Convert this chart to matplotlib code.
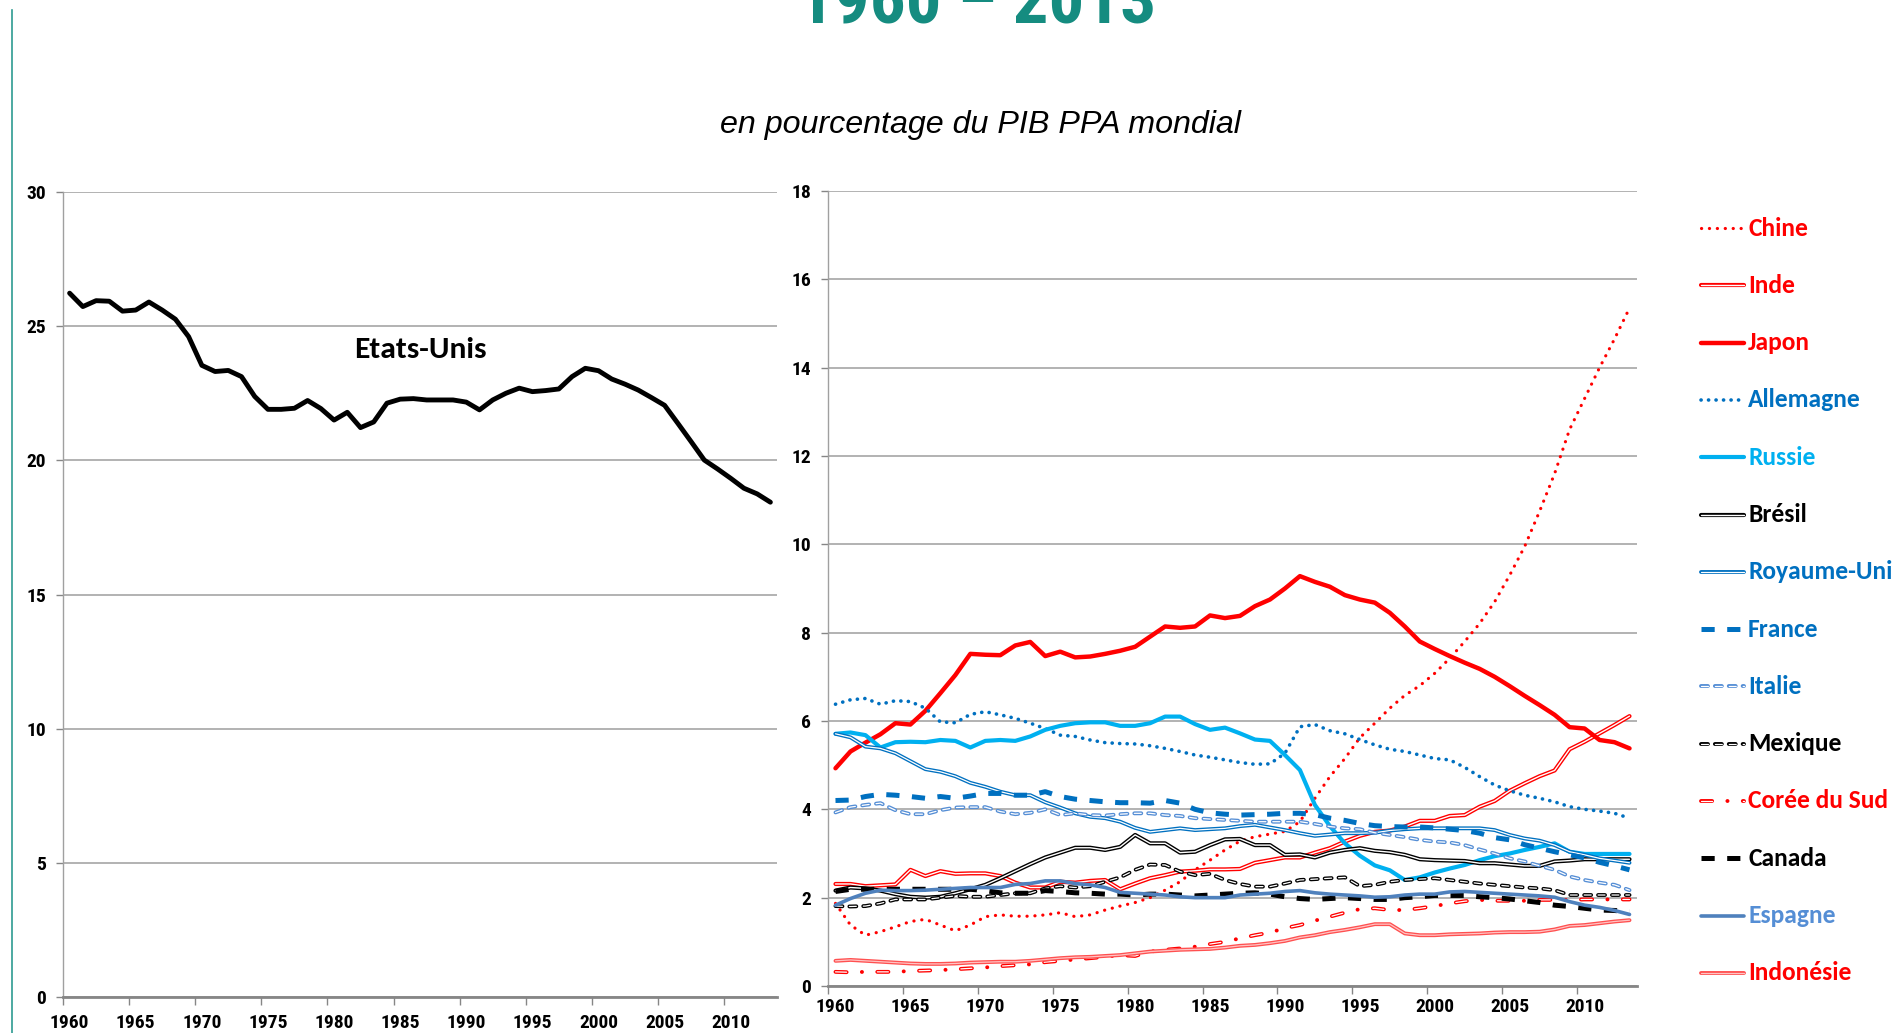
import numpy as np
import matplotlib
matplotlib.use('Agg')
import matplotlib.pyplot as plt
from matplotlib import font_manager
from matplotlib.lines import Line2D

plt.rcParams['lines.scale_dashes'] = False

fonts = font_manager.fontManager.ttflist


def pick(cands, bold=False):
    for c in cands:
        for f in fonts:
            if f.name == c and f.style == 'normal':
                wt = f.weight if isinstance(f.weight, int) else 400
                if not bold or 600 <= wt <= 800:
                    return c
    return 'DejaVu Sans'


NARROW = pick(['Liberation Sans Narrow', 'Arial Narrow', 'Archivo Narrow', 'Roboto Condensed',
               'PT Sans Narrow', 'Fira Sans Condensed', 'IBM Plex Sans Condensed',
               'Barlow Condensed', 'Encode Sans Condensed', 'Asap Condensed',
               'Sofia Sans Condensed', 'Pragati Narrow', 'Open Sans Condensed'], bold=True)
CALIBRI = pick(['Carlito', 'Calibri', 'Lato'], bold=True)
ARIAL = pick(['Liberation Sans', 'Arimo', 'Arial'])

years = list(range(1960, 2014))

etats_unis = [26.23, 25.73, 25.95, 25.93, 25.56, 25.60, 25.90, 25.60, 25.26, 24.61,
              23.54, 23.31, 23.35, 23.12, 22.38, 21.90, 21.90, 21.94, 22.23, 21.93,
              21.50, 21.79, 21.22, 21.43, 22.13, 22.28, 22.30, 22.25, 22.25, 22.25,
              22.17, 21.88, 22.25, 22.50, 22.69, 22.56, 22.60, 22.66, 23.12, 23.43,
              23.34, 23.03, 22.84, 22.62, 22.34, 22.05, 21.38, 20.70, 20.01, 19.68,
              19.33, 18.96, 18.75, 18.44]

chine = [1.87, 1.38, 1.15, 1.23, 1.34, 1.46, 1.51, 1.38, 1.25, 1.38,
         1.57, 1.61, 1.58, 1.58, 1.61, 1.66, 1.57, 1.61, 1.72, 1.81,
         1.89, 2.00, 2.17, 2.36, 2.63, 2.85, 3.08, 3.28, 3.38, 3.44,
         3.50, 3.72, 4.25, 4.74, 5.15, 5.62, 5.95, 6.29, 6.58, 6.80,
         7.08, 7.42, 7.80, 8.21, 8.70, 9.30, 9.95, 10.75, 11.60, 12.60,
         13.30, 14.00, 14.65, 15.35]

inde = [2.31, 2.31, 2.26, 2.28, 2.30, 2.63, 2.49, 2.60, 2.54, 2.55,
        2.55, 2.49, 2.34, 2.23, 2.23, 2.36, 2.34, 2.38, 2.40, 2.19,
        2.32, 2.44, 2.51, 2.59, 2.61, 2.64, 2.64, 2.65, 2.79, 2.85,
        2.91, 2.91, 3.02, 3.12, 3.27, 3.40, 3.49, 3.52, 3.61, 3.74,
        3.74, 3.85, 3.87, 4.06, 4.19, 4.42, 4.59, 4.75, 4.88, 5.36,
        5.53, 5.72, 5.91, 6.11]

japon = [4.93, 5.31, 5.51, 5.70, 5.95, 5.92, 6.23, 6.63, 7.04, 7.52,
         7.50, 7.49, 7.71, 7.79, 7.47, 7.57, 7.44, 7.46, 7.52, 7.59,
         7.68, 7.91, 8.14, 8.11, 8.14, 8.39, 8.33, 8.38, 8.60, 8.75,
         9.00, 9.28, 9.15, 9.04, 8.85, 8.75, 8.68, 8.45, 8.14, 7.80,
         7.63, 7.47, 7.32, 7.18, 7.00, 6.79, 6.57, 6.36, 6.14, 5.86,
         5.83, 5.57, 5.52, 5.38]

allemagne = [6.38, 6.48, 6.51, 6.38, 6.46, 6.44, 6.29, 5.98, 5.96, 6.15,
             6.21, 6.14, 6.06, 5.95, 5.83, 5.68, 5.65, 5.57, 5.51, 5.49,
             5.48, 5.44, 5.38, 5.31, 5.23, 5.18, 5.12, 5.06, 5.02, 5.03,
             5.27, 5.87, 5.92, 5.78, 5.71, 5.58, 5.46, 5.36, 5.31, 5.23,
             5.15, 5.12, 4.95, 4.74, 4.55, 4.42, 4.32, 4.25, 4.17, 4.06,
             4.00, 3.96, 3.91, 3.80]

russie = [5.71, 5.74, 5.68, 5.40, 5.52, 5.53, 5.52, 5.57, 5.55, 5.40,
          5.55, 5.57, 5.55, 5.65, 5.80, 5.89, 5.95, 5.97, 5.97, 5.89,
          5.89, 5.95, 6.10, 6.10, 5.93, 5.80, 5.85, 5.72, 5.58, 5.55,
          5.23, 4.89, 4.10, 3.62, 3.23, 2.95, 2.73, 2.62, 2.40, 2.46,
          2.57, 2.66, 2.74, 2.85, 2.94, 3.00, 3.08, 3.15, 3.23, 3.04,
          2.99, 2.99, 2.99, 2.99]

bresil = [2.16, 2.23, 2.21, 2.16, 2.08, 2.02, 2.00, 2.02, 2.10, 2.19,
          2.29, 2.44, 2.60, 2.76, 2.91, 3.02, 3.13, 3.13, 3.08, 3.15,
          3.42, 3.23, 3.23, 3.02, 3.04, 3.19, 3.32, 3.33, 3.19, 3.19,
          2.97, 2.98, 2.91, 3.02, 3.08, 3.12, 3.06, 3.03, 2.97, 2.87,
          2.85, 2.84, 2.83, 2.78, 2.78, 2.75, 2.72, 2.72, 2.82, 2.84,
          2.87, 2.87, 2.87, 2.87]

royaume_uni = [5.71, 5.63, 5.42, 5.38, 5.27, 5.09, 4.91, 4.85, 4.75, 4.60,
               4.51, 4.40, 4.32, 4.32, 4.16, 4.04, 3.91, 3.83, 3.80, 3.72,
               3.58, 3.49, 3.53, 3.57, 3.53, 3.55, 3.57, 3.62, 3.65, 3.59,
               3.53, 3.46, 3.40, 3.43, 3.46, 3.46, 3.47, 3.52, 3.55, 3.57,
               3.57, 3.57, 3.57, 3.57, 3.53, 3.42, 3.34, 3.29, 3.19, 3.04,
               2.97, 2.89, 2.84, 2.79]

france = [4.20, 4.21, 4.29, 4.34, 4.32, 4.29, 4.25, 4.29, 4.25, 4.30,
          4.36, 4.36, 4.32, 4.32, 4.40, 4.29, 4.23, 4.20, 4.17, 4.15,
          4.15, 4.14, 4.20, 4.14, 4.00, 3.92, 3.89, 3.87, 3.88, 3.89,
          3.91, 3.91, 3.88, 3.80, 3.75, 3.68, 3.63, 3.61, 3.60, 3.60,
          3.58, 3.55, 3.52, 3.46, 3.36, 3.31, 3.20, 3.12, 3.04, 2.97,
          2.90, 2.80, 2.72, 2.63]

italie = [3.93, 4.05, 4.10, 4.14, 3.98, 3.89, 3.89, 3.98, 4.04, 4.05,
          4.05, 3.95, 3.89, 3.92, 4.00, 3.87, 3.91, 3.87, 3.86, 3.89,
          3.91, 3.91, 3.87, 3.85, 3.80, 3.78, 3.76, 3.74, 3.72, 3.72,
          3.72, 3.72, 3.67, 3.61, 3.57, 3.55, 3.47, 3.42, 3.37, 3.31,
          3.27, 3.25, 3.19, 3.09, 3.00, 2.89, 2.82, 2.72, 2.63, 2.48,
          2.40, 2.34, 2.29, 2.17]

mexique = [1.81, 1.80, 1.81, 1.87, 1.96, 1.96, 1.96, 2.00, 2.04, 2.02,
           2.02, 2.06, 2.10, 2.10, 2.21, 2.26, 2.23, 2.26, 2.36, 2.46,
           2.63, 2.75, 2.74, 2.59, 2.51, 2.54, 2.40, 2.31, 2.25, 2.25,
           2.32, 2.40, 2.42, 2.44, 2.46, 2.26, 2.29, 2.36, 2.40, 2.42,
           2.44, 2.40, 2.36, 2.32, 2.29, 2.26, 2.23, 2.21, 2.17, 2.06,
           2.06, 2.06, 2.06, 2.06]

coree_du_sud = [0.32, 0.31, 0.32, 0.32, 0.32, 0.34, 0.35, 0.36, 0.38, 0.40,
                0.42, 0.45, 0.47, 0.49, 0.54, 0.57, 0.60, 0.63, 0.66, 0.70,
                0.68, 0.78, 0.82, 0.85, 0.89, 0.95, 1.00, 1.08, 1.15, 1.21,
                1.31, 1.38, 1.48, 1.57, 1.66, 1.74, 1.76, 1.72, 1.72, 1.76,
                1.81, 1.87, 1.92, 1.95, 1.93, 1.93, 1.93, 1.95, 1.95, 1.95,
                1.96, 1.96, 1.96, 1.96]

canada = [2.14, 2.19, 2.19, 2.19, 2.19, 2.19, 2.19, 2.19, 2.19, 2.19,
          2.16, 2.11, 2.10, 2.10, 2.16, 2.14, 2.11, 2.10, 2.08, 2.08,
          2.06, 2.08, 2.08, 2.06, 2.04, 2.06, 2.08, 2.10, 2.11, 2.08,
          2.02, 1.98, 1.96, 1.98, 2.00, 1.98, 1.96, 1.96, 2.00, 2.02,
          2.05, 2.05, 2.05, 2.02, 2.00, 1.97, 1.93, 1.89, 1.83, 1.80,
          1.76, 1.72, 1.71, 1.68]

espagne = [1.83, 1.98, 2.10, 2.17, 2.16, 2.16, 2.17, 2.19, 2.21, 2.23,
           2.23, 2.23, 2.30, 2.32, 2.38, 2.38, 2.32, 2.29, 2.23, 2.12,
           2.10, 2.08, 2.06, 2.02, 2.00, 2.00, 2.00, 2.06, 2.08, 2.10,
           2.14, 2.16, 2.11, 2.08, 2.06, 2.04, 2.01, 2.02, 2.06, 2.08,
           2.08, 2.13, 2.14, 2.12, 2.10, 2.08, 2.06, 2.04, 2.01, 1.91,
           1.83, 1.78, 1.71, 1.62]

indonesie = [0.57, 0.59, 0.57, 0.55, 0.53, 0.51, 0.50, 0.50, 0.51, 0.53,
             0.54, 0.55, 0.55, 0.57, 0.60, 0.63, 0.65, 0.66, 0.68, 0.70,
             0.74, 0.78, 0.80, 0.82, 0.83, 0.84, 0.87, 0.91, 0.93, 0.97,
             1.02, 1.10, 1.15, 1.22, 1.27, 1.33, 1.40, 1.40, 1.19, 1.15,
             1.15, 1.17, 1.18, 1.19, 1.21, 1.22, 1.22, 1.23, 1.28, 1.36,
             1.38, 1.42, 1.46, 1.49]

pays = ['Chine', 'Inde', 'Japon', 'Allemagne', 'Russie', 'Brésil', 'Royaume-Uni',
        'France', 'Italie', 'Mexique', 'Corée du Sud', 'Canada', 'Espagne', 'Indonésie']
series = [chine, inde, japon, allemagne, russie, bresil, royaume_uni,
          france, italie, mexique, coree_du_sud, canada, espagne, indonesie]

RED = '#FF0000'
BLUE = '#0070C0'
CYAN = '#00B0F0'
LBLUE = '#558ED5'
text_colors = [RED, RED, RED, BLUE, CYAN, 'black', BLUE, BLUE, BLUE, 'black',
               RED, 'black', LBLUE, RED]


def draw(ax, x, y, name):
    kw = dict(solid_joinstyle='round', solid_capstyle='round')
    if name == 'Chine':
        ax.plot(x, y, color=RED, lw=2.3, linestyle=(0, (0.1, 5.6)), dash_capstyle='round')
    elif name == 'Inde':
        ax.plot(x, y, color=RED, lw=3.0, **kw)
        ax.plot(x, y, color='white', lw=1.0, **kw)
    elif name == 'Japon':
        ax.plot(x, y, color=RED, lw=3.2, **kw)
    elif name == 'Allemagne':
        ax.plot(x, y, color=BLUE, lw=2.6, linestyle=(0, (0.1, 5.3)), dash_capstyle='round')
    elif name == 'Russie':
        ax.plot(x, y, color=CYAN, lw=3.0, **kw)
    elif name == 'Brésil':
        ax.plot(x, y, color='black', lw=3.0, **kw)
        ax.plot(x, y, color='white', lw=1.0, **kw)
    elif name == 'Royaume-Uni':
        ax.plot(x, y, color=BLUE, lw=2.8, **kw)
        ax.plot(x, y, color='white', lw=0.9, **kw)
    elif name == 'France':
        ax.plot(x, y, color=BLUE, lw=3.6, linestyle=(0, (9.5, 9)))
    elif name in ('Italie', 'Mexique'):
        c = LBLUE if name == 'Italie' else 'black'
        ax.plot(x, y, color=c, lw=2.8, linestyle=(0, (5.0, 5.0)), dash_capstyle='round')
        ax.plot(x, y, color='white', lw=0.9, linestyle=(0, (5.0, 5.0)), dash_capstyle='round')
    elif name == 'Corée du Sud':
        ax.plot(x, y, color=RED, lw=2.8, linestyle=(0, (8, 11, 0.1, 11)), dash_capstyle='round')
        ax.plot(x, y, color='white', lw=0.9, linestyle=(0, (8, 22.1)), dash_capstyle='round')
    elif name == 'Canada':
        ax.plot(x, y, color='black', lw=3.6, linestyle=(0, (9.5, 9)))
    elif name == 'Espagne':
        ax.plot(x, y, color='#4F81BD', lw=2.6, **kw)
    elif name == 'Indonésie':
        ax.plot(x, y, color='#FF5050', lw=2.8, **kw)
        ax.plot(x, y, color='#FFC4C4', lw=0.9, **kw)


W, H = 1892, 1033
fig = plt.figure(figsize=(W / 100, H / 100), dpi=100)
renderer = fig.canvas.get_renderer()


def fitted(sample, target_px, **kw):
    # font size that gives `sample` the wanted width in pixels
    t = fig.text(0, 0, sample, fontsize=20, **kw)
    w = t.get_window_extent(renderer=renderer).width
    t.remove()
    return 20 * target_px / w


TICK_SIZE = 14
LEG_SIZE = fitted('Allemagne', 113, family=CALIBRI, fontweight='bold')
US_SIZE = fitted('Etats-Unis', 133, family=CALIBRI, fontweight='bold')
TITLE_SIZE = min(fitted('1960 – 2013', 357, family=[NARROW, 'DejaVu Sans'], fontweight='bold'), 56)
SUB_SIZE = fitted('en pourcentage du PIB PPA mondial', 520, family=ARIAL, style='italic')


def style_axes(ax, ymax, ystep, label_pad):
    ax.set_xlim(1959.5, 2013.5)
    ax.set_ylim(0, ymax)
    ax.set_yticks(np.arange(0, ymax + 0.1, ystep))
    ax.set_xticks(np.arange(1959.5, 2014, 5))
    ax.set_xticklabels([])
    ax.set_xticks(range(1960, 2011, 5), minor=True)
    ax.set_xticklabels([str(v) for v in range(1960, 2011, 5)], minor=True)
    ax.tick_params(axis='x', which='major', length=6, width=1, color='#868686')
    ax.tick_params(axis='x', which='minor', length=0, pad=label_pad)
    ax.tick_params(axis='y', length=5, width=1, color='#868686', pad=7)
    for lbl in ax.get_yticklabels() + ax.get_xticklabels(minor=True):
        lbl.set_fontfamily(NARROW)
        lbl.set_fontweight('bold')
        lbl.set_fontsize(TICK_SIZE)
    ax.yaxis.grid(True, color='#A6A6A6', lw=1.2)
    ax.set_axisbelow(True)
    for s in ['top', 'right']:
        ax.spines[s].set_visible(False)
    ax.spines['left'].set_color('#A0A0A0')
    ax.spines['left'].set_linewidth(1)
    ax.spines['bottom'].set_color('#868686')
    ax.spines['bottom'].set_linewidth(2)


# left panel: Etats-Unis
axL = fig.add_axes([63 / W, (H - 997) / H, (777 - 63) / W, (997 - 192) / H])
style_axes(axL, 30, 5, 12)
axL.plot(years, etats_unis, color='black', lw=3.5, solid_joinstyle='round', solid_capstyle='round')
axL.text(1986.5, 24.1, 'Etats-Unis', ha='center', va='center', fontsize=US_SIZE,
         fontweight='bold', family=CALIBRI)

# right panel: other countries
axR = fig.add_axes([828 / W, (H - 986) / H, (1637 - 828) / W, (986 - 191) / H])
style_axes(axR, 18, 2, 9)
for name, vals in zip(pays, series):
    draw(axR, years, vals, name)

# legend drawn by hand
lax = fig.add_axes([1690 / W, 0, (W - 1690) / W, 1])
lax.set_xlim(1690, W)
lax.set_ylim(H, 0)
lax.axis('off')
for k, name in enumerate(pays):
    yy = 228 + 57.3 * k
    draw(lax, [1701, 1744], [yy, yy], name)
    lax.text(1748, yy, name, color=text_colors[k], fontsize=LEG_SIZE, fontweight='bold',
             family=CALIBRI, va='center', ha='left')

fig.text(977 / W, 1 - 23 / H, '1960 – 2013', ha='center', va='baseline',
         fontsize=TITLE_SIZE, fontweight='bold', family=[NARROW, 'DejaVu Sans'], color='#158C80')
fig.text(980 / W, 1 - 133 / H, 'en pourcentage du PIB PPA mondial', ha='center',
         va='baseline', fontsize=SUB_SIZE, style='italic', family=ARIAL)

fig.add_artist(Line2D([12 / W, 12 / W], [0, 1 - 10 / H], transform=fig.transFigure,
                      color='#2E9B91', lw=1.2))

fig.savefig('out.png', dpi=100)
